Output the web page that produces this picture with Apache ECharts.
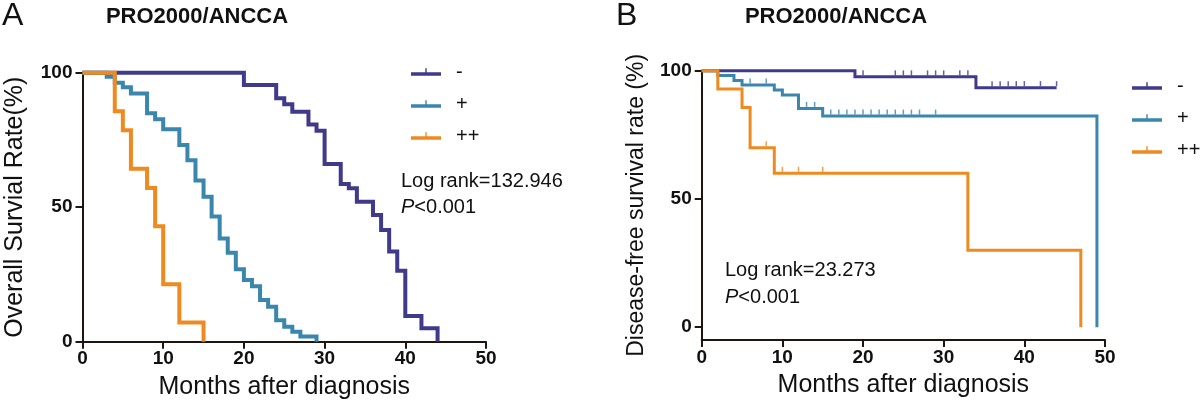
<!DOCTYPE html>
<html>
<head>
<meta charset="utf-8">
<script src="https://cdn.jsdelivr.net/npm/echarts@6/dist/echarts.min.js"></script>
<style>
html,body{margin:0;padding:0;background:#fff;}
#chart{width:1200px;height:412px;}
</style>
</head>
<body>
<div id="chart"></div>
<script>
// ---- Panel A: Overall survival ----
const xTicks = [0, 10, 20, 30, 40, 50];
const yTicks = [0, 50, 100];
const seriesNames = ['-', '+', '++'];

const aNegT = [0, 20, 24, 25, 26, 28, 29, 30, 32, 33, 34, 36, 37, 38, 39, 40, 42, 44];
const aNegS = [100, 95.4, 90.5, 88.3, 85.5, 80.7, 78.4, 66.1, 58.6, 57.0, 52.0, 47.1, 41.5, 33.5, 26.4, 9.6, 5.0, 0];
const aPosT = [0, 3, 4, 5, 6, 8, 9, 10, 12, 13, 14, 15, 16, 17, 18, 19, 20, 21, 22, 23, 24, 25, 26, 27, 29];
const aPosS = [100, 98.5, 96.3, 94.6, 92.3, 84.9, 82.7, 79.0, 73.1, 67.5, 59.9, 53.9, 46.5, 38.4, 33.1, 26.9, 22.9, 20.6, 15.5, 13.0, 8.0, 5.6, 3.7, 1.9, 0];
const aPPT = [0, 4, 5, 6, 8, 9, 10, 12, 15];
const aPPS = [100, 85.7, 78.6, 64.3, 57.1, 42.9, 21.4, 7.1, 0];

// ---- Panel B: Disease-free survival ----
const bNegT = [0, 19, 34, 44];
const bNegS = [100, 97.6, 93.4, 93.4];
const bPosT = [0, 2, 4, 5, 9, 10, 12, 15, 49];
const bPosS = [100, 98.1, 96.2, 94.4, 92.5, 90.5, 85.3, 82.3, 0];
const bPPT = [0, 2, 5, 6, 9, 33, 47];
const bPPS = [100, 92.9, 85.7, 70.0, 60.0, 30.0, 0];

// censored observations (months)
const bNegCens = [20, 24, 25, 26, 28, 29, 30, 32, 33, 36, 37, 38, 39, 40, 42, 44];
const bPosCens = [6, 8, 13, 14, 16, 17, 18, 19, 20, 21, 22, 23, 24, 25, 26, 27, 29];
const bPPCens = [8, 10, 12, 15];

const colNeg = '#3f3a8a';
const colPos = '#3a86ad';
const colPP = '#ee8a1f';
const axisCol = '#1e1410';
const FONT = "'Liberation Sans', Arial, sans-serif";

function pairs(t, s) { return t.map((v, i) => [v, s[i]]); }
function valueAt(t, s, x) {
  let v = s[0];
  for (let i = 0; i < t.length; i++) { if (t[i] <= x) v = s[i]; }
  return v;
}
function cens(t, s, c) { return c.map(x => [x, valueAt(t, s, x)]); }

const legendIcon = 'path://M0,6 L30,6 L30,9.5 L0,9.5 Z M14.3,2 L15.7,2 L15.7,6 L14.3,6 Z';

function stepSeries(name, t, s, color, gi, w) {
  return {
    name: name, type: 'line', step: 'end', xAxisIndex: gi, yAxisIndex: gi,
    data: pairs(t, s), symbol: 'none', clip: false,
    lineStyle: { color: color, width: w, join: 'miter', cap: 'butt' },
    itemStyle: { color: color },
    color: color
  };
}
function censSeries(name, t, s, c, color, gi) {
  return {
    name: name, type: 'scatter', xAxisIndex: gi, yAxisIndex: gi,
    data: cens(t, s, c), symbol: 'rect', symbolSize: [1.5, 5], symbolOffset: [0, -4],
    itemStyle: { color: color }, clip: false, z: 3
  };
}

function xAxisCfg(gi) {
  return {
    type: 'value', gridIndex: gi, min: 0, max: 50, interval: 10,
    name: 'Months after diagnosis', nameLocation: 'middle', nameGap: 33,
    nameTextStyle: { fontSize: 25, color: '#111', fontFamily: FONT },
    axisLine: { show: true, onZero: false, lineStyle: { color: axisCol, width: 2 } },
    axisTick: { show: true, length: 7, lineStyle: { color: axisCol, width: 2 } },
    axisLabel: { fontSize: 19, fontWeight: 'bold', color: '#111', margin: 8, fontFamily: FONT },
    splitLine: { show: false }
  };
}

const option = {
  animation: false,
  backgroundColor: '#fff',
  textStyle: { fontFamily: FONT },
  grid: [
    { left: 82.5, top: 72.7, width: 403.5, height: 269 },
    { left: 701.7, top: 70.7, width: 403.3, height: 269.3 }
  ],
  xAxis: [xAxisCfg(0), xAxisCfg(1)],
  yAxis: [
    {
      type: 'value', gridIndex: 0, min: 0, max: 100, interval: 50,
      name: 'Overall Survial Rate(%)', nameLocation: 'middle', nameGap: 55,
      nameTextStyle: { fontSize: 25, color: '#111', fontFamily: FONT },
      axisLine: { show: true, lineStyle: { color: axisCol, width: 2 } },
      axisTick: { show: true, length: 7, lineStyle: { color: axisCol, width: 2 } },
      axisLabel: { fontSize: 19, fontWeight: 'bold', color: '#111', margin: 10, fontFamily: FONT },
      splitLine: { show: false }
    },
    {
      type: 'value', gridIndex: 1, min: -5, max: 100,
      name: 'Disease-free survival rate (%)', nameLocation: 'middle', nameGap: 54,
      nameTextStyle: { fontSize: 23, color: '#111', fontFamily: FONT },
      axisLine: { show: true, lineStyle: { color: axisCol, width: 2 } },
      axisTick: { show: true, length: 7, customValues: yTicks, lineStyle: { color: axisCol, width: 2 } },
      axisLabel: { fontSize: 19, fontWeight: 'bold', color: '#111', margin: 10, customValues: yTicks, fontFamily: FONT },
      splitLine: { show: false }
    }
  ],
  legend: [
    {
      left: 406, top: 57, orient: 'vertical', itemWidth: 30, itemHeight: 10, itemGap: 12,
      data: seriesNames.map(n => ({ name: n, icon: legendIcon })),
      itemStyle: { borderWidth: 0 },
      textStyle: { fontSize: 20, color: '#111', padding: [0, 0, 0, 10], fontFamily: FONT },
      selectedMode: false
    },
    {
      left: 1127, top: 71, orient: 'vertical', itemWidth: 30, itemHeight: 10, itemGap: 12,
      data: seriesNames.map(n => ({ name: n, icon: legendIcon })),
      itemStyle: { borderWidth: 0 },
      textStyle: { fontSize: 20, color: '#111', padding: [0, 0, 0, 10], fontFamily: FONT },
      selectedMode: false
    }
  ],
  series: [
    stepSeries('-', aNegT, aNegS, colNeg, 0, 4),
    stepSeries('+', aPosT, aPosS, colPos, 0, 4),
    stepSeries('++', aPPT, aPPS, colPP, 0, 4),
    stepSeries('-', bNegT, bNegS, colNeg, 1, 3),
    stepSeries('+', bPosT, bPosS, colPos, 1, 3),
    stepSeries('++', bPPT, bPPS, colPP, 1, 3),
    censSeries('c-', bNegT, bNegS, bNegCens, colNeg, 1),
    censSeries('c+', bPosT, bPosS, bPosCens, colPos, 1),
    censSeries('c++', bPPT, bPPS, bPPCens, colPP, 1)
  ],
  graphic: [
    { type: 'text', left: 2, top: 0, style: { text: 'A', fontSize: 32, fill: '#111', fontFamily: FONT } },
    { type: 'text', left: 616, top: 0, style: { text: 'B', fontSize: 32, fill: '#111', fontFamily: FONT } },
    { type: 'text', x: 197, y: 17, style: { text: 'PRO2000/ANCCA', fontSize: 22, fontWeight: 'bold', fill: '#111', align: 'center', verticalAlign: 'middle', fontFamily: FONT } },
    { type: 'text', x: 836, y: 17, style: { text: 'PRO2000/ANCCA', fontSize: 22, fontWeight: 'bold', fill: '#111', align: 'center', verticalAlign: 'middle', fontFamily: FONT } },
    { type: 'text', x: 401, y: 181, style: { text: 'Log rank=132.946', fontSize: 20, fill: '#111', verticalAlign: 'middle', fontFamily: FONT } },
    { type: 'text', x: 401, y: 207, style: { text: '{i|P}<0.001', fontSize: 20, fill: '#111', verticalAlign: 'middle', fontFamily: FONT, rich: { i: { fontStyle: 'italic', fontSize: 20, fontFamily: FONT } } } },
    { type: 'text', x: 725, y: 270, style: { text: 'Log rank=23.273', fontSize: 20, fill: '#111', verticalAlign: 'middle', fontFamily: FONT } },
    { type: 'text', x: 725, y: 297, style: { text: '{i|P}<0.001', fontSize: 20, fill: '#111', verticalAlign: 'middle', fontFamily: FONT, rich: { i: { fontStyle: 'italic', fontSize: 20, fontFamily: FONT } } } }
  ]
};

const chart = echarts.init(document.getElementById('chart'), null, { renderer: 'canvas' });
chart.setOption(option);
</script>
</body>
</html>
